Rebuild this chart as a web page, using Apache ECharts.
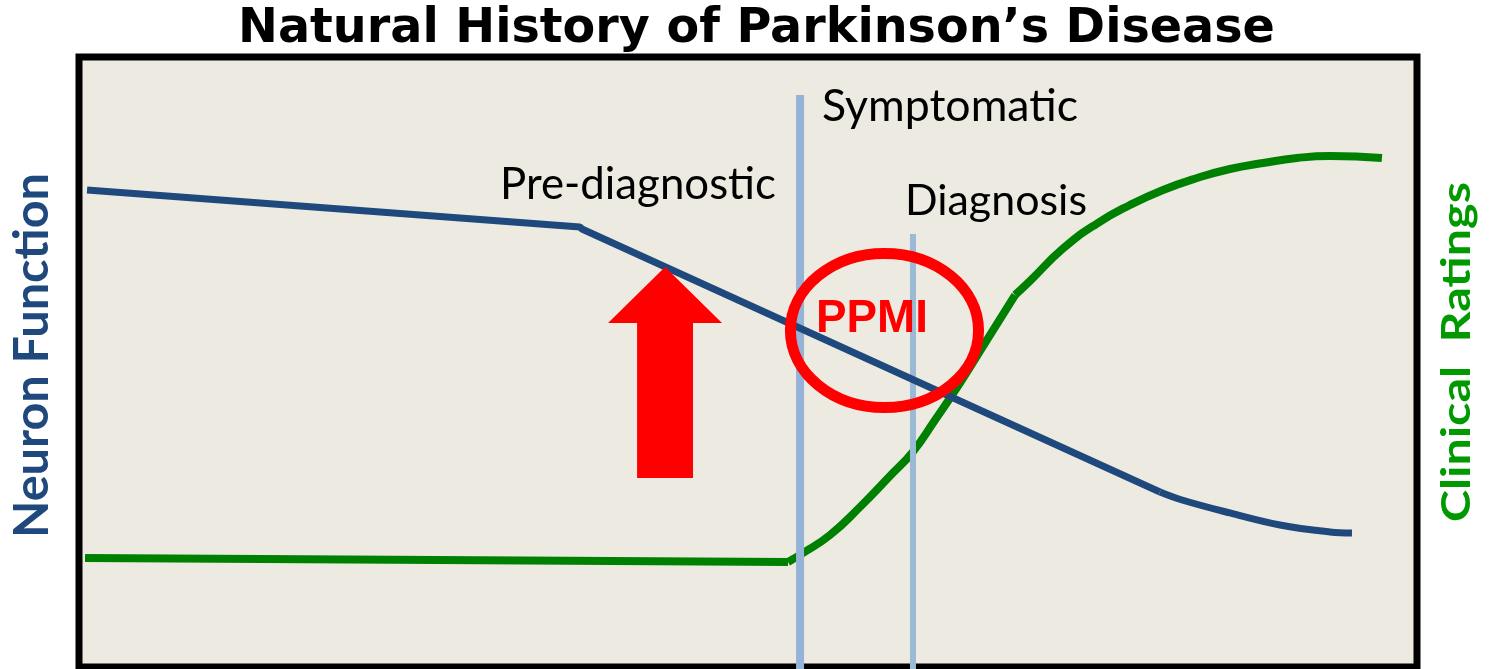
<!DOCTYPE html>
<html><head><meta charset="utf-8">
<script src="https://cdn.jsdelivr.net/npm/echarts@6/dist/echarts.min.js"></script>
<style>html,body{margin:0;padding:0;background:#fff}#c{width:1489px;height:669px}</style>
</head><body><div id="c"></div>
<script>
// ---- data (abstract units: time 0-100, level 0-100) ----
const neuronX = [0.60, 37.44, 37.59, 80.79];
const neuronY = [78.20, 72.13, 71.80, 28.69];
const neuronTailX = [80.79, 82.44, 86.02, 89.76, 93.50, 95.14];
const neuronTailY = [28.69, 27.38, 25.25, 23.28, 22.13, 21.97];
const clinicalFlatX = [0.45, 52.99];
const clinicalFlatY = [17.87, 17.21];
const clinicalRiseX = [52.99, 54.11, 56.13, 58.37, 60.61, 62.33, 63.98, 65.84, 67.71, 69.96];
const clinicalRiseY = [17.21, 18.69, 21.64, 26.23, 31.30, 35.30, 40.49, 46.56, 53.11, 60.98];
const clinicalPlateauX = [69.96, 71.08, 73.54, 76.08, 78.55, 81.02, 83.56, 86.02, 88.49, 91.03, 93.50, 97.38];
const clinicalPlateauY = [60.98, 63.30, 68.60, 72.70, 75.74, 78.20, 80.16, 81.64, 82.62, 83.44, 83.77, 83.44];
const symptomaticX = [53.89, 53.89];
const symptomaticY = [-0.4, 93.77];
const diagnosisX = [62.33, 62.33];
const diagnosisY = [-0.4, 70.98];
// annotations (data units)
const arrowTip = [43.80, 65.57];
const arrowHeadBaseY = 56.39;
const arrowHeadHalfW = 4.26;
const arrowShaftHalfW = 2.09;
const arrowBottomY = 30.98;
const ppmiCenter = [60.20, 55.16];
const ppmiRadii = [7.03, 12.62];

const titleText = 'Natural History of Parkinson\u2019s Disease';
const leftAxisText = 'Neuron Function';
const rightAxisText = 'Clinical  Ratings';

const zip = (xs, ys) => xs.map((x, i) => [x, ys[i]]);
const greenStyle = {color: '#008000', width: 8, cap: 'butt'};
const blueStyle = {color: '#1F497D', width: 7, cap: 'butt'};

const chart = echarts.init(document.getElementById('c'), null, {renderer: 'canvas'});
chart.setOption({
  animation: false,
  backgroundColor: '#ffffff',
  grid: {left: 79, right: 72, top: 57, bottom: 2, show: true, borderColor: '#000000', borderWidth: 7, backgroundColor: '#EDEBE1', z: 0},
  xAxis: {type: 'value', min: 0, max: 100, show: false},
  yAxis: {type: 'value', min: 0, max: 100, show: false},
  series: [
    {type: 'line', data: zip(clinicalFlatX, clinicalFlatY), symbol: 'none', z: 2, lineStyle: greenStyle},
    {type: 'line', data: zip(clinicalRiseX, clinicalRiseY), symbol: 'none', smooth: 0.5, z: 2, lineStyle: greenStyle},
    {type: 'line', data: zip(clinicalPlateauX, clinicalPlateauY), symbol: 'none', smooth: 0.5, z: 2, lineStyle: greenStyle},
    {type: 'line', data: zip(symptomaticX, symptomaticY), symbol: 'none', clip: false, z: 3,
     lineStyle: {color: '#95B3D7', width: 8, cap: 'butt'}},
    {type: 'line', data: zip(diagnosisX, diagnosisY), symbol: 'none', clip: false, z: 3,
     lineStyle: {color: '#9BBAD6', width: 6, cap: 'butt'}},
    {type: 'line', data: zip(neuronX, neuronY), symbol: 'none', z: 4, lineStyle: blueStyle},
    {type: 'line', data: zip(neuronTailX, neuronTailY), symbol: 'none', smooth: 0.4, z: 4, lineStyle: blueStyle}
  ]
});

const cv = document.createElement('canvas').getContext('2d');
function widthAt(text, weight, family, size) {
  cv.font = weight + ' ' + size + 'px ' + family;
  return cv.measureText(text).width;
}
function txt(text, weight, family, target, x, y, color) {
  const fs = 100 * target / widthAt(text, weight, family, 100);
  return {type: 'text', x: x, y: y, z: 100,
    style: {text: text, font: weight + ' ' + fs.toFixed(2) + 'px ' + family, fill: color, align: 'center', verticalAlign: 'middle'}};
}
// vertical label: font size chosen for cap height, then squeezed along the text to the target length
function vtxt(text, weight, family, capRatio, cap, length, x, y, color) {
  const fs = cap / capRatio;
  const sx = length / widthAt(text, weight, family, fs);
  return {type: 'text', x: x, y: y, z: 100, rotation: Math.PI / 2, scaleX: sx, scaleY: 1,
    style: {text: text, font: weight + ' ' + fs.toFixed(2) + 'px ' + family, fill: color, align: 'center', verticalAlign: 'middle'}};
}
const P = p => chart.convertToPixel({gridIndex: 0}, p);

const tip = P(arrowTip);
const hl = P([arrowTip[0] - arrowHeadHalfW, arrowHeadBaseY]);
const hr = P([arrowTip[0] + arrowHeadHalfW, arrowHeadBaseY]);
const sl = P([arrowTip[0] - arrowShaftHalfW, arrowHeadBaseY]);
const sr = P([arrowTip[0] + arrowShaftHalfW, arrowHeadBaseY]);
const bl = P([arrowTip[0] - arrowShaftHalfW, arrowBottomY]);
const br = P([arrowTip[0] + arrowShaftHalfW, arrowBottomY]);
const ec = P(ppmiCenter);
const er = P([ppmiCenter[0] + ppmiRadii[0], ppmiCenter[1] + ppmiRadii[1]]);

const bodyFont = 'Lato, "Open Sans", sans-serif';
chart.setOption({
  graphic: [
    {type: 'polygon', z: 50, shape: {points: [tip, hr, sr, br, bl, sl, hl]}, style: {fill: '#FF0000'}},
    {type: 'ellipse', z: 50, shape: {cx: ec[0], cy: ec[1], rx: er[0] - ec[0], ry: ec[1] - er[1]},
     style: {fill: 'none', stroke: '#FF0000', lineWidth: 11}},
    txt(titleText, 'bold', '"DejaVu Sans"', 1037, 756.5, 29.5, '#000000'),
    txt('Symptomatic', 'normal', bodyFont, 256, 950, 107, '#000000'),
    txt('Pre-diagnostic', 'normal', bodyFont, 276, 638, 185, '#000000'),
    txt('Diagnosis', 'normal', bodyFont, 182, 996, 201.5, '#000000'),
    txt('PPMI', 'bold', '"Liberation Sans", Arial, sans-serif', 112, 872, 319, '#FF0000'),
    vtxt(leftAxisText, 'bold', bodyFont, 0.7165, 34, 365, 33, 355.5, '#1F497D'),
    vtxt(rightAxisText, 'bold', bodyFont, 0.7165, 29, 340, 1457, 352, '#009A00')
  ]
});
</script>
</body></html>
